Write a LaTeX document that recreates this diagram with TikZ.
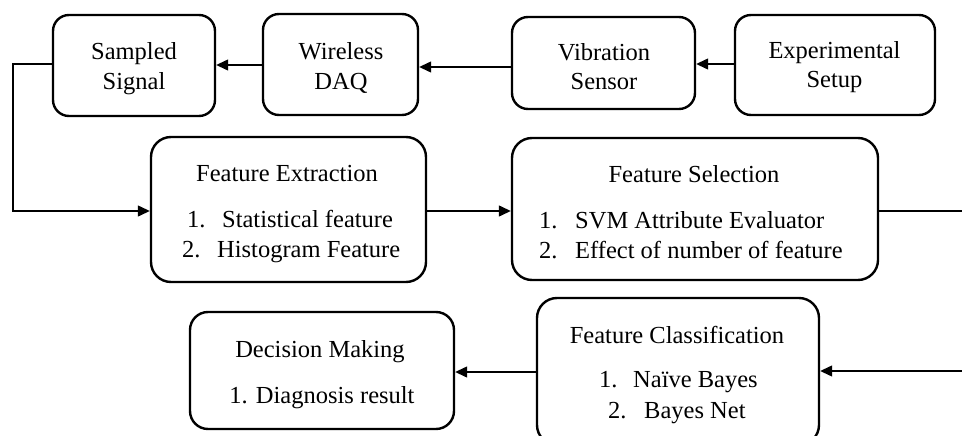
\documentclass[tikz,border=0pt]{standalone}
\usepackage{fontspec}
\setmainfont{Liberation Serif}
\usetikzlibrary{arrows.meta}
\begin{document}
\begin{tikzpicture}[x=1pt,y=-1pt,
  box/.style={draw, line width=2.4pt, rounded corners=16pt, inner sep=0pt},
  conn/.style={line width=1.3pt},
  arr/.style={conn, -{Triangle[length=12pt,width=11pt]}},
  txt/.style={font=\fontsize{24.5}{29}\selectfont, inner sep=0pt, anchor=base},
  itm/.style={txt, anchor=base west},
]
\useasboundingbox (0,0) rectangle (962,436);
\clip (0,0) rectangle (962,436);

% top row boxes
\node[box, minimum width=162pt, minimum height=101pt] (ss) at (134,65.5) {};
\node[box, minimum width=155pt, minimum height=101pt] (wd) at (340.5,64.5) {};
\node[box, minimum width=183pt, minimum height=92pt]  (vs) at (603.5,63) {};
\node[box, minimum width=200pt, minimum height=100pt] (es) at (835,65) {};

\node[txt] (ss1) at (134,60) {Sampled};
\node[txt] (ss2) at (134,89) {Signal};
\node[txt] (wd1) at (341,60) {Wireless};
\node[txt] (wd2) at (341,90) {DAQ};
\node[txt] (vs1) at (604,61) {Vibration};
\node[txt] (vs2) at (604,90) {Sensor};
\node[txt] (es1) at (834.5,58.5) {Experimental};
\node[txt] (es2) at (834.5,87.5) {Setup};

% middle row
\node[box, rounded corners=20pt, minimum width=275pt, minimum height=145pt] (fe) at (288.5,209.5) {};
\node[box, rounded corners=20pt, minimum width=366pt, minimum height=142pt] (fs) at (695,209) {};

\node[txt] (fet) at (287,181) {Feature Extraction};
\node[itm] (fe1) at (187,227) {\makebox[35pt][l]{1.}Statistical feature};
\node[itm] (fe2) at (182,257) {\makebox[35pt][l]{2.}Histogram Feature};

\node[txt] (fst) at (694,182) {Feature Selection};
\node[itm] (fs1) at (539,228) {\makebox[36pt][l]{1.}SVM Attribute Evaluator};
\node[itm] (fs2) at (539,258) {\makebox[36pt][l]{2.}Effect of number of feature};

% bottom row
\node[box, rounded corners=20pt, minimum width=282pt, minimum height=147pt] (fc) at (678,371.5) {};
\node[box, rounded corners=18pt, minimum width=264pt, minimum height=117pt] (dm) at (322,370.5) {};

\node[txt] (fct) at (677,343) {Feature Classification};
\node[itm] (fc1) at (599,387) {\makebox[34pt][l]{1.}Naïve Bayes};
\node[itm] (fc2) at (608,418) {\makebox[36pt][l]{2.}Bayes Net};

\node[txt] (dmt) at (320,357) {Decision Making};
\node[txt] (dm1) at (322,403) {1. Diagnosis result};

% connectors
\draw[arr] (es.west |- 0,64) -- (vs.east |- 0,64);
\draw[arr] (vs.west |- 0,67) -- (wd.east |- 0,67);
\draw[arr] (wd.west |- 0,65) -- (ss.east |- 0,65);
\coordinate (lc) at (13,211);
\draw[arr] (ss.west |- 0,64) -| (lc) -- (fe.west |- lc);
\draw[arr] (fe.east |- 0,211) -- (fs.west |- 0,211);
\coordinate (rc1) at (965,211);
\coordinate (rc2) at (965,371);
\draw[arr] (fs.east |- rc1) -- (rc1) -- (rc2) -- (fc.east |- rc2);
\draw[arr] (fc.west |- 0,372) -- (dm.east |- 0,372);
\end{tikzpicture}
\end{document}
